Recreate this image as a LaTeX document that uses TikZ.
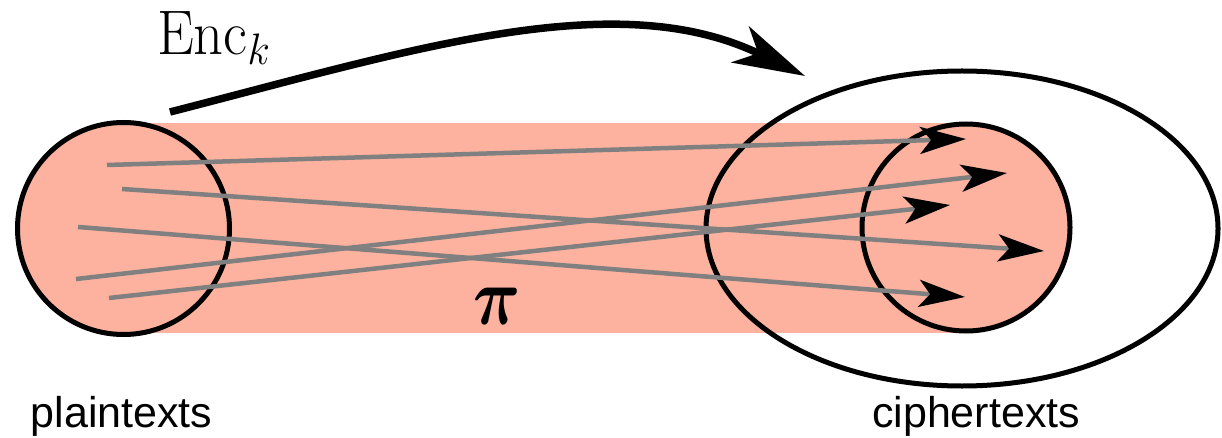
\RequirePackage{fix-cm}
\documentclass[tikz,border=0pt]{standalone}
\usepackage{fontspec}
\usepackage{bm}
\usetikzlibrary{arrows.meta,shapes.geometric}
\newfontfamily\labelfont{Liberation Sans}
\definecolor{bandpink}{RGB}{252,178,158}
\begin{document}
\begin{tikzpicture}[x=1pt,y=-1pt,
  setcirc/.style={draw=black,line width=5pt,fill=bandpink,inner sep=0pt,outer sep=0pt},
  mapline/.style={draw=gray,line width=4.5pt,-{Stealth[length=46pt,width=27pt,inset=11pt,color=black]}},
  encarrow/.style={line width=7.5pt,-{Stealth[length=72pt,width=40pt,inset=20pt]}},
  lbl/.style={font=\labelfont\fontsize{43}{50}\selectfont,anchor=base,inner sep=0pt}]
\useasboundingbox (0,0) rectangle (1222,438);
% band
\node[fill=bandpink,draw=none,inner sep=0pt,outer sep=0pt,minimum width=842.5pt,minimum height=210pt,anchor=north west] (band) at (123.5,123) {};
% sets
\node[circle,setcirc,minimum size=212pt] (P) at (123.5,228.5) {};
\node[ellipse,draw=black,line width=5pt,inner sep=0pt,minimum width=512pt,minimum height=315pt] (C) at (962,228.5) {};
\node[ellipse,setcirc,minimum width=208pt,minimum height=207pt] (K) at (966,227.5) {};
% mapping lines
\coordinate (s1) at (107,165);
\coordinate (s2) at (122,189);
\coordinate (s3) at (78,227);
\coordinate (s4) at (76,279);
\coordinate (s5) at (109,298);
\coordinate (t1) at (966,139);
\coordinate (t2) at (1007,173);
\coordinate (t3) at (950,205);
\coordinate (t4) at (1044,251);
\coordinate (t5) at (965,297);
\draw[mapline] (s1) -- (t1);
\draw[mapline] (s2) -- (t4);
\draw[mapline] (s3) -- (t5);
\draw[mapline] (s4) -- (t2);
\draw[mapline] (s5) -- (t3);
% Enc arrow
\coordinate (e0) at (170,112);
\coordinate (e1) at (805,76);
\draw[encarrow] (e0) .. controls (412,50) and (616,-16) .. (e1);
% labels
\node[lbl] (pl) at (121.5,427) {plaintexts};
\node[lbl] (ct) at (976,427) {ciphertexts};
\node[anchor=base west,inner sep=0pt,font=\fontsize{63}{70}\selectfont,xscale=0.93] (enc) at (157,55) {Enc$_k$};
\node[inner sep=0pt,font=\fontsize{82}{90}\selectfont,xscale=0.8] (pi) at (497,306) {$\bm{\pi}$};
\end{tikzpicture}
\end{document}
